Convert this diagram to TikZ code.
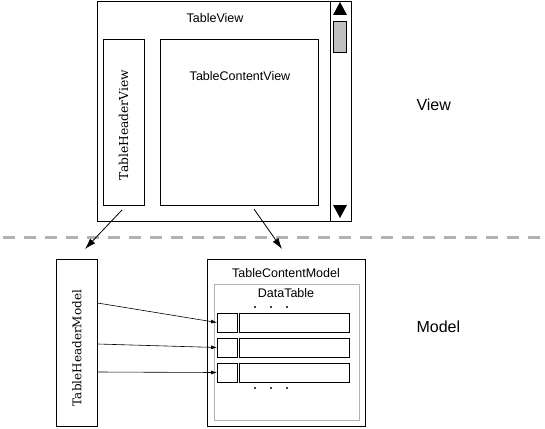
\documentclass[tikz,border=0pt]{standalone}
\usepackage{fontspec}
\setsansfont{Liberation Sans}
\newfontfamily\hdrfont{DejaVu Serif}
\usetikzlibrary{arrows.meta}
\definecolor{sepgray}{gray}{0.7}
\definecolor{thumbgray}{gray}{0.75}
\begin{document}
\begin{tikzpicture}[x=1pt, y=-1pt,
    box/.style={draw, line width=0.8pt, inner sep=0pt, outer sep=0pt, anchor=north west},
    lbl/.style={font=\sffamily\fontsize{12.5}{14}\selectfont},
    side/.style={font=\sffamily\fontsize{16}{18}\selectfont, anchor=west},
    vlbl/.style={rotate=90, font=\hdrfont\fontsize{12.3}{14}\selectfont},
    bigarrow/.style={line width=0.8pt, -{Latex[length=11pt,width=7pt]}},
    smallarrow/.style={line width=0.6pt, -{Latex[length=6pt,width=4pt]}}]
    \useasboundingbox (0,0) rectangle (545,428);
    % view side
    \node[box, minimum width=254pt, minimum height=220pt] (tv) at (97,1) {};
    \node[box, minimum width=21pt, minimum height=220pt] (sbar) at (330,1) {};
    \node[box, fill=thumbgray, minimum width=13pt, minimum height=31pt] (thumb) at (333.5,21) {};
    \fill (340,2) -- (347,15) -- (333,15) -- cycle;
    \fill (333,205) -- (347,205) -- (340,218) -- cycle;
    \node[lbl] (tvlabel) at (215,18) {TableView};
    \node[box, minimum width=41pt, minimum height=166pt] (thv) at (103,39) {};
    \node[vlbl] (thvlabel) at (123.5,125) {TableHeaderView};
    \node[box, minimum width=158pt, minimum height=166pt] (tcv) at (160,39) {};
    \node[lbl] (tcvlabel) at (240,76) {TableContentView};
    % separator
    \draw[sepgray, line width=3pt, dash pattern=on 12pt off 9pt] (3,237.5) -- (545,237.5);
    \node[side] (viewlabel) at (413,105) {View};
    \node[side] (modellabel) at (413,327) {Model};
    % model side
    \node[box, minimum width=41pt, minimum height=167pt] (thm) at (56.5,259) {};
    \node[vlbl, font=\hdrfont\fontsize{12}{14}\selectfont] (thmlabel) at (77,348) {TableHeaderModel};
    \node[box, minimum width=158pt, minimum height=167pt] (tcm) at (207.5,259) {};
    \node[lbl] (tcmlabel) at (286,273) {TableContentModel};
    \node[box, draw=sepgray, minimum width=145pt, minimum height=136pt] (dt) at (214,284) {};
    \node[lbl] (dtlabel) at (286,293) {DataTable};
    \foreach \x in {255,271,287} {\fill (\x,307) circle (1.2pt); \fill (\x,388) circle (1.2pt);}
    \foreach \n/\y in {1/313,2/338,3/363} {
        \node[box, minimum width=20pt, minimum height=19pt] (key\n) at (217,\y) {};
        \node[box, minimum width=110pt, minimum height=19pt] (row\n) at (239,\y) {};
    }
    \foreach \n/\y in {1/303,2/344,3/372} {\draw[smallarrow] (thm.east |- 0,\y) -- (key\n.west);}
    % view to model
    \coordinate (thvfoot) at (122,210);
    \coordinate (thmhead) at (85,249);
    \coordinate (tcvfoot) at (254,209);
    \coordinate (tcmhead) at (282,249);
    \draw[bigarrow] (thvfoot) -- (thmhead);
    \draw[bigarrow] (tcvfoot) -- (tcmhead);
\end{tikzpicture}
\end{document}
